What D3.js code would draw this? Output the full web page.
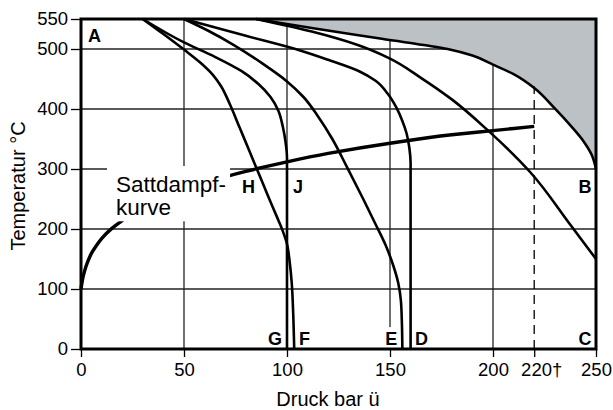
<!DOCTYPE html>
<html><head><meta charset="utf-8">
<script src="https://cdn.jsdelivr.net/npm/d3@7"></script>
<style>body{margin:0;background:#fff}svg{display:block}text{font-family:"Liberation Sans",Arial,sans-serif}</style>
</head><body>
<svg id="c" width="613" height="410"></svg>
<script>
// ---- data ----
const xTicks = [0, 50, 100, 150, 200, 220, 250];
const xTickLabels = ["0", "50", "100", "150", "200", "220\u2020", "250"];
const yTicks = [0, 100, 200, 300, 400, 500, 550];
const xGrid = [50, 100, 150, 200];
const yGrid = [100, 200, 300, 400, 500];

// saturated steam curve (gauge pressure bar, °C)
const sattdampf = [[0,100],[0.5,111],[1,120],[2,133],[3,143],[5,159],[7,170],[10,184],[15,201],[20,214],[30,236],[40,252],[50,265],[60,277],[70,287],[80,296],[100,312],[120,326],[150,343],[180,357],[200,364],[220,371]];
// limit curve A-B (upper boundary of shaded zone)
const curveAB = [[85,550],[112,535],[146,517],[178,500],[190,489],[200,474],[210,458],[220,435],[230,401],[238,371],[244,346],[248,323],[250,300]];
// curve ending at B-C (150 °C at 250 bar)
const curveBC = [[85,550],[112,529],[134,507],[150,484],[165,452],[180,416],[197,366],[218,295],[238,205],[250,150]];
const curveD = [[50,550],[80,522],[106,498],[120,482],[135,463],[143,447],[149,425],[153,403],[156,380],[158,360],[159.4,335],[160,310],[160,0]];
const curveE = [[50,550],[62,530],[74,507],[88,476],[100,446],[108,420],[115,388],[122,350],[129,304],[137,250],[143,208],[148,172],[151.5,140],[154,110],[155.3,80],[155.8,40],[156,0]];
const curveJG = [[30,550],[50,511],[65,487],[78,463],[86,442],[92,420],[95.8,397],[98,370],[99.3,345],[100,318],[100,0]];
const curveHF = [[30,550],[40,525],[50,499],[58,477],[64,457],[68,438],[72,410],[77,369],[82,328],[85,303],[89,270],[93,237],[96,213],[98,196],[100,175],[101.3,145],[102.3,110],[103,60],[103.5,0]];
const criticalPressure = 220;
const criticalTop = 438;

const pointLabels = [
  {t:"A", x:6.6, y:511}, {t:"B", x:244.7, y:260}, {t:"C", x:244.7, y:6.5},
  {t:"D", x:165.3, y:6.5}, {t:"E", x:150.6, y:6.5, bg:true}, {t:"F", x:108.5, y:6.5},
  {t:"G", x:94.2, y:6.5}, {t:"H", x:81.3, y:260}, {t:"J", x:105.3, y:260}
];
const noteLines = ["Sattdampf-", "kurve"];
const xTitle = "Druck bar \u00fc";
const yTitle = "Temperatur \u00b0C";

// ---- layout ----
const W = 613, H = 410;
const m = {l:81, r:17, t:19, b:61};
const svg = d3.select("#c");
const x = d3.scaleLinear().domain([0,250]).range([m.l, W - m.r]);
const y = d3.scaleLinear().domain([0,550]).range([H - m.b, m.t]);

// grid
const g = svg.append("g");
g.selectAll("line.vx").data(xGrid).join("line")
  .attr("x1", d => x(d)).attr("x2", d => x(d))
  .attr("y1", y(0)).attr("y2", y(550))
  .attr("stroke", "#222").attr("stroke-width", 1.3);
g.selectAll("line.hy").data(yGrid).join("line")
  .attr("x1", x(0)).attr("x2", x(250))
  .attr("y1", d => y(d)).attr("y2", d => y(d))
  .attr("stroke", "#222").attr("stroke-width", 1.3);

const curveGen = d3.line().x(d => x(d[0])).y(d => y(d[1])).curve(d3.curveMonotoneY);

// shaded zone above curve A-B
svg.append("path")
  .attr("d", curveGen(curveAB) + "L" + x(250) + "," + y(550) + "L" + x(curveAB[0][0]) + "," + y(550) + "Z")
  .attr("fill", "#bcc1c5").attr("stroke", "none");

// critical pressure dashed line
svg.append("line")
  .attr("x1", x(criticalPressure)).attr("x2", x(criticalPressure))
  .attr("y1", y(0)).attr("y2", y(criticalTop))
  .attr("stroke", "#000").attr("stroke-width", 1.3).attr("stroke-dasharray", "9,6");

// curves
[curveAB, curveBC, curveD, curveE, curveJG, curveHF].forEach(c => {
  svg.append("path").attr("d", curveGen(c)).attr("fill", "none")
    .attr("stroke", "#000").attr("stroke-width", 2.6).attr("stroke-linejoin", "round");
});
svg.append("path").attr("d", curveGen(sattdampf)).attr("fill", "none")
  .attr("stroke", "#000").attr("stroke-width", 3.4);

// note text with white background
const note = svg.append("g");
const noteBg = note.append("rect").attr("fill", "#fff");
const noteText = note.append("text").attr("font-size", 22.5).attr("fill", "#000");
noteLines.forEach((s, i) => {
  noteText.append("tspan").attr("x", 116).attr("y", 192 + i * 23.3).text(s);
});
const nb = noteText.node().getBBox();
noteBg.attr("x", nb.x - 9).attr("y", nb.y - 6).attr("width", nb.width + 13).attr("height", nb.height + 7);

// point labels
const lg = svg.append("g");
pointLabels.forEach(p => {
  const t = lg.append("text").attr("x", x(p.x)).attr("y", y(p.y))
    .attr("text-anchor", "middle").attr("font-weight", "bold").attr("font-size", 18).text(p.t);
  if (p.bg) {
    const b = t.node().getBBox();
    lg.insert("rect", "text").attr("x", b.x - 1).attr("y", b.y - 2)
      .attr("width", b.width + 2).attr("height", y(0) - b.y + 2).attr("fill", "#fff");
  }
});

// frame
svg.append("rect").attr("x", x(0)).attr("y", y(550))
  .attr("width", x(250) - x(0)).attr("height", y(0) - y(550))
  .attr("fill", "none").attr("stroke", "#000").attr("stroke-width", 3);

// axes
const xAxis = d3.axisBottom(x).tickValues(xTicks).tickSize(8).tickPadding(6)
  .tickFormat((d, i) => xTickLabels[i]);
const gx = svg.append("g").attr("transform", `translate(0,${y(0)})`).call(xAxis);
gx.select(".domain").remove();
gx.selectAll("line").attr("stroke", "#000").attr("stroke-width", 1.3);
gx.selectAll("text").attr("font-size", 18.5).attr("fill", "#000")
  .attr("font-family", '"Liberation Sans",Arial,sans-serif')
  .attr("dx", (d, i) => xTickLabels[i].length > 3 ? 7 : 0);

const yAxis = d3.axisLeft(y).tickValues(yTicks).tickSize(10).tickPadding(3);
const gy = svg.append("g").attr("transform", `translate(${x(0)},0)`).call(yAxis);
gy.select(".domain").remove();
gy.selectAll("line").attr("stroke", "#000").attr("stroke-width", 1.3);
gy.selectAll("text").attr("font-size", 18.5).attr("fill", "#000")
  .attr("font-family", '"Liberation Sans",Arial,sans-serif');

// titles
svg.append("text").attr("x", 328).attr("y", 406).attr("text-anchor", "middle")
  .attr("font-size", 20).text(xTitle);
svg.append("text").attr("transform", "translate(25,186) rotate(-90)").attr("text-anchor", "middle")
  .attr("font-size", 20).text(yTitle);
</script>
</body></html>
